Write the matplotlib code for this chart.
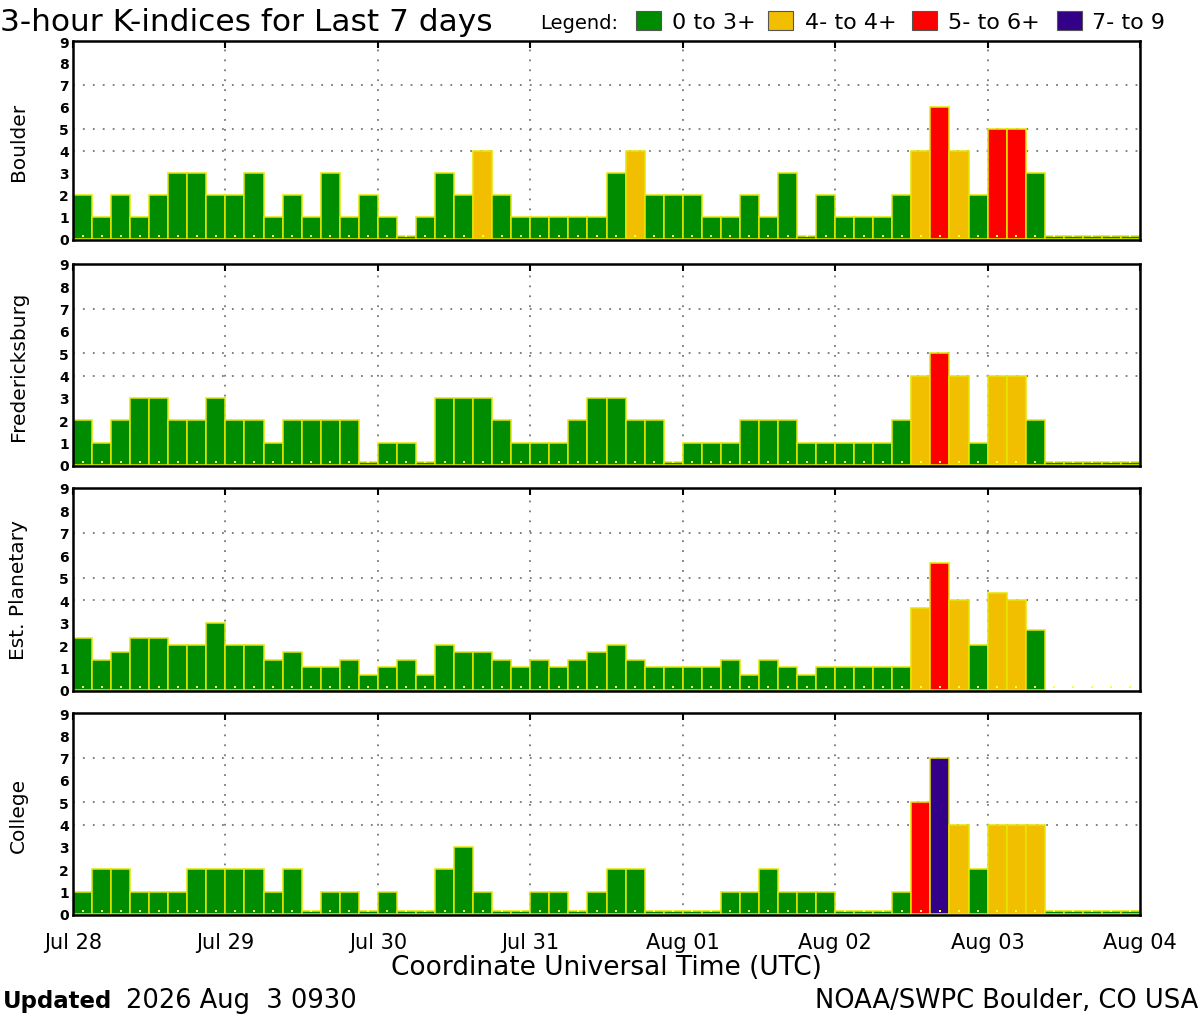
import numpy as np
import matplotlib
matplotlib.use("Agg")
import matplotlib.pyplot as plt
from matplotlib.patches import Rectangle

nan = np.nan
day_labels = ['Jul 28', 'Jul 29', 'Jul 30', 'Jul 31', 'Aug 01', 'Aug 02', 'Aug 03', 'Aug 04']
stations = ['Boulder', 'Fredericksburg', 'Est. Planetary', 'College']

boulder = [2, 1, 2, 1, 2, 3, 3, 2,
           2, 3, 1, 2, 1, 3, 1, 2,
           1, 0, 1, 3, 2, 4, 2, 1,
           1, 1, 1, 1, 3, 4, 2, 2,
           2, 1, 1, 2, 1, 3, 0, 2,
           1, 1, 1, 2, 4, 6, 4, 2,
           5, 5, 3, 0, 0, 0, 0, 0]
fredericksburg = [2, 1, 2, 3, 3, 2, 2, 3,
                  2, 2, 1, 2, 2, 2, 2, 0,
                  1, 1, 0, 3, 3, 3, 2, 1,
                  1, 1, 2, 3, 3, 2, 2, 0,
                  1, 1, 1, 2, 2, 2, 1, 1,
                  1, 1, 1, 2, 4, 5, 4, 1,
                  4, 4, 2, 0, 0, 0, 0, 0]
planetary = [2.33, 1.33, 1.67, 2.33, 2.33, 2.0, 2.0, 3.0,
             2.0, 2.0, 1.33, 1.67, 1.0, 1.0, 1.33, 0.67,
             1.0, 1.33, 0.67, 2.0, 1.67, 1.67, 1.33, 1.0,
             1.33, 1.0, 1.33, 1.67, 2.0, 1.33, 1.0, 1.0,
             1.0, 1.0, 1.33, 0.67, 1.33, 1.0, 0.67, 1.0,
             1.0, 1.0, 1.0, 1.0, 3.67, 5.67, 4.0, 2.0,
             4.33, 4.0, 2.67, nan, nan, nan, nan, nan]
college = [1, 2, 2, 1, 1, 1, 2, 2,
           2, 2, 1, 2, 0, 1, 1, 0,
           1, 0, 0, 2, 3, 1, 0, 0,
           1, 1, 0, 1, 2, 2, 0, 0,
           0, 0, 1, 1, 2, 1, 1, 1,
           0, 0, 0, 1, 5, 7, 4, 2,
           4, 4, 4, 0, 0, 0, 0, 0]
series = [boulder, fredericksburg, planetary, college]

legend_labels = ['0 to 3+', '4- to 4+', '5- to 6+', '7- to 9']
GREEN, YELLOW, RED, PURPLE = '#008c00', '#f2be00', '#ff0000', '#330088'
legend_colors = [GREEN, YELLOW, RED, PURPLE]
EDGE = '#e6e600'


def kcolor(v):
    if v < 3.5:
        return GREEN
    if v < 4.5:
        return YELLOW
    if v < 6.5:
        return RED
    return PURPLE


W, H = 1200, 1020
fig = plt.figure(figsize=(W / 100, H / 100), dpi=100)

panels_px = [(42, 241), (265, 467), (489, 692), (714, 916)]
left_px, right_px = 73, 1140

for i, (name, vals, (top, bot)) in enumerate(zip(stations, series, panels_px)):
    ax = fig.add_axes([left_px / W, 1 - bot / H, (right_px - left_px) / W, (bot - top) / H])
    v = np.array(vals, dtype=float)
    x = np.arange(len(v))
    ok = ~np.isnan(v)
    heights = np.where(v[ok] == 0, 0.12, v[ok])
    colors = [kcolor(a) for a in v[ok]]
    ax.bar(x[ok], heights, width=1.0, align='edge', color=colors,
           edgecolor=EDGE, linewidth=1.1, zorder=2)
    ax.scatter(x + 0.5, np.full(len(x), 0.13), marker='s', s=3, color='#ffff40',
               linewidths=0, zorder=3)
    ax.set_xlim(0, len(v))
    ax.set_ylim(-0.05, 9)
    for g in (4, 5, 7):
        ax.axhline(g, color='#777777', linestyle=(0, (1, 4.5)), linewidth=1.3, zorder=1)
    for d in range(8, len(v), 8):
        ax.axvline(d, color='#777777', linestyle=(0, (1, 4.5)), linewidth=1.3, zorder=1)
    ax.set_yticks(range(10))
    ax.set_yticklabels([str(k) for k in range(10)], fontsize=10, fontweight='bold')
    ax.tick_params(axis='y', length=0, pad=3)
    ax.set_xticks(range(0, len(v) + 1, 8))
    ax.tick_params(axis='x', top=True, bottom=False, direction='in', length=5, width=1.5)
    if i == 3:
        ax.set_xticklabels(day_labels, fontsize=15)
        ax.tick_params(axis='x', pad=12)
        ax.set_xlabel('Coordinate Universal Time (UTC)', fontsize=19, labelpad=2)
    else:
        ax.set_xticklabels([])
    for s in ax.spines.values():
        s.set_linewidth(1.8)
        s.set_color('black')
    ax.set_ylabel(name, fontsize=14.5)
    ax.yaxis.set_label_coords(-0.042, 0.5)

# Title and legend row
fig.text(0 / W, 1 - 31 / H, '3-hour K-indices for Last 7 days', fontsize=22.5,
         va='baseline', ha='left')
fig.text(540 / W, 1 - 29 / H, 'Legend:', fontsize=14, va='baseline', ha='left')
sq_x = [636, 768, 912, 1057]
tx_x = [672, 805, 948, 1092]
for c, lab, sx, tx in zip(legend_colors, legend_labels, sq_x, tx_x):
    fig.patches.append(Rectangle((sx / W, 1 - 31 / H), 25 / W, 19 / H, transform=fig.transFigure,
                                 facecolor=c, edgecolor='#555555', linewidth=0.8))
    fig.text(tx / W, 1 - 29 / H, lab, fontsize=16, va='baseline', ha='left')

# Footer
fig.text(3 / W, 1 - 1008 / H, 'Updated', fontsize=16.5, fontweight='bold', va='baseline', ha='left')
fig.text(126 / W, 1 - 1008 / H, '2026 Aug  3 0930', fontsize=18.5, va='baseline', ha='left')
fig.text(1198 / W, 1 - 1008 / H, 'NOAA/SWPC Boulder, CO USA', fontsize=18.5, va='baseline', ha='right')

fig.savefig('out.png', dpi=100, facecolor='white')
